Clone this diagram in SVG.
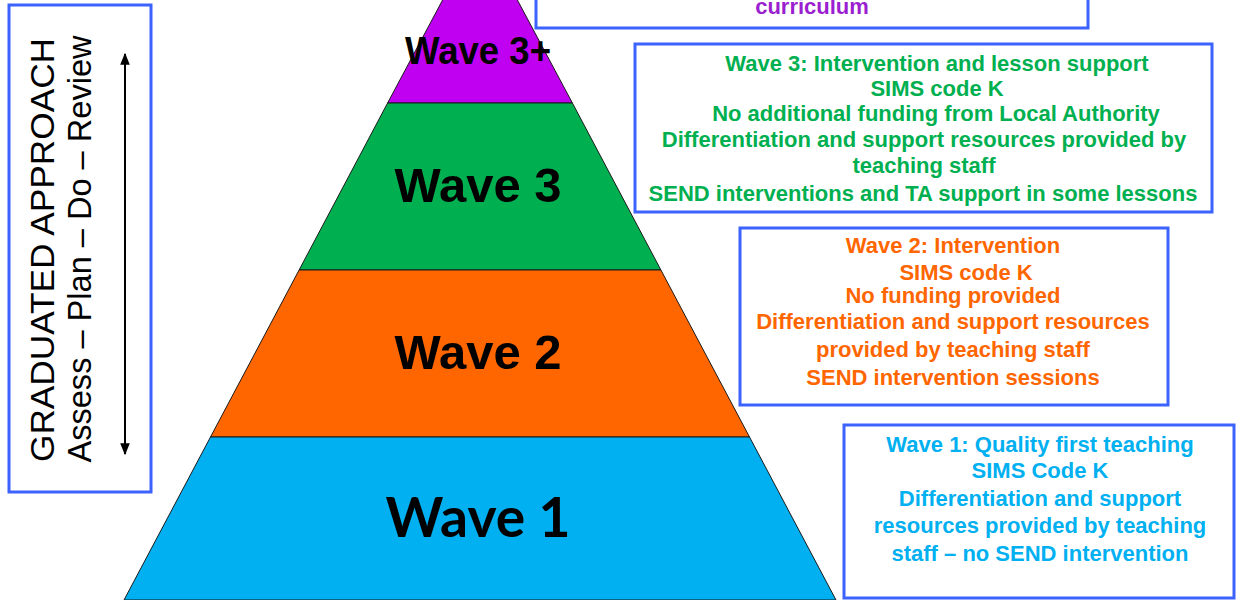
<svg xmlns="http://www.w3.org/2000/svg" width="1236" height="600" viewBox="0 0 1236 600">
<defs>
<style>
.box{fill:#fff;stroke:#3D63FF;stroke-width:3}
.band{stroke:#1a1a1a;stroke-width:1}
.bt{font-family:"Liberation Sans",Arial,sans-serif;font-weight:bold;font-size:22px;text-anchor:middle}
.wl{font-family:"Liberation Sans",Arial,sans-serif;font-weight:bold;font-size:49px;text-anchor:middle;fill:#000}
.side{font-family:"Liberation Sans",Arial,sans-serif;font-size:34px;text-anchor:middle;fill:#000}
</style>
<marker id="ah" viewBox="0 0 10 10" refX="9" refY="5" markerWidth="6" markerHeight="6" orient="auto-start-reverse">
<path d="M0,1 L10,5 L0,9 z" fill="#000"/>
</marker>
</defs>
<rect width="1236" height="600" fill="#fff"/>

<g id="pyramid">
<g id="wave3plus">
<polygon class="band" points="480,-70 572.4,103 387.6,103" fill="#C000F0"/>
<text x="478" y="64" font-family="'Liberation Sans',Arial,sans-serif" font-weight="bold" font-size="38" text-anchor="middle" textLength="146" lengthAdjust="spacingAndGlyphs">Wave 3+</text>
</g>
<g id="wave3">
<polygon class="band" points="387.6,103 572.4,103 660.9,270 299.1,270" fill="#00B050"/>
<text class="wl" x="478" y="202">Wave 3</text>
</g>
<g id="wave2">
<polygon class="band" points="299.1,270 660.9,270 749.5,437 210.5,437" fill="#FF6600"/>
<text class="wl" x="478" y="369">Wave 2</text>
</g>
<g id="wave1">
<polygon class="band" points="210.5,437 749.5,437 836,600 124,600" fill="#00B0F0"/>
<text x="478" y="537" font-family="Lato,'Open Sans',sans-serif" font-weight="bold" font-size="55" text-anchor="middle" textLength="185" lengthAdjust="spacingAndGlyphs">Wave 1</text>
</g>
</g>

<g id="graduated">
<rect class="box" x="9" y="5" width="142" height="487"/>
<text class="side" transform="translate(54,250) rotate(-90)" textLength="424" lengthAdjust="spacingAndGlyphs">GRADUATED APPROACH</text>
<text class="side" font-size="32.5" transform="translate(91,249) rotate(-90)" textLength="427" lengthAdjust="spacingAndGlyphs">Assess – Plan – Do – Review</text>
</g>

<g id="connectors">
<line x1="125" y1="454" x2="125" y2="54" stroke="#000" stroke-width="2" marker-start="url(#ah)" marker-end="url(#ah)"/>
</g>

<g id="box-top">
<rect class="box" x="536" y="-10" width="552" height="38"/>
<text class="bt" x="812" y="14" fill="#9B1FD0">curriculum</text>
</g>

<g id="box-wave3">
<rect class="box" x="635" y="44" width="577" height="168"/>
<text class="bt" x="937" y="71" fill="#00B050">Wave 3: Intervention and lesson support</text>
<text class="bt" x="937" y="96" fill="#00B050">SIMS code K</text>
<text class="bt" x="936" y="121" fill="#00B050">No additional funding from Local Authority</text>
<text class="bt" x="924" y="147" fill="#00B050">Differentiation and support resources provided by</text>
<text class="bt" x="924" y="173" fill="#00B050">teaching staff</text>
<text class="bt" x="923" y="201" fill="#00B050">SEND interventions and TA support in some lessons</text>
</g>

<g id="box-wave2">
<rect class="box" x="740" y="228" width="428" height="177"/>
<text class="bt" x="953" y="253" fill="#FF6600">Wave 2: Intervention</text>
<text class="bt" x="966" y="280" fill="#FF6600">SIMS code K</text>
<text class="bt" x="953" y="303" fill="#FF6600">No funding provided</text>
<text class="bt" x="953" y="329" fill="#FF6600">Differentiation and support resources</text>
<text class="bt" x="953" y="357" fill="#FF6600">provided by teaching staff</text>
<text class="bt" x="953" y="385" fill="#FF6600">SEND intervention sessions</text>
</g>

<g id="box-wave1">
<rect class="box" x="844" y="425" width="390" height="173"/>
<text class="bt" x="1040" y="452" fill="#00B0F0">Wave 1: Quality first teaching</text>
<text class="bt" x="1040" y="478" fill="#00B0F0">SIMS Code K</text>
<text class="bt" x="1040" y="506" fill="#00B0F0">Differentiation and support</text>
<text class="bt" x="1040" y="533" fill="#00B0F0">resources provided by teaching</text>
<text class="bt" x="1040" y="561" fill="#00B0F0">staff – no SEND intervention</text>
</g>
</svg>
